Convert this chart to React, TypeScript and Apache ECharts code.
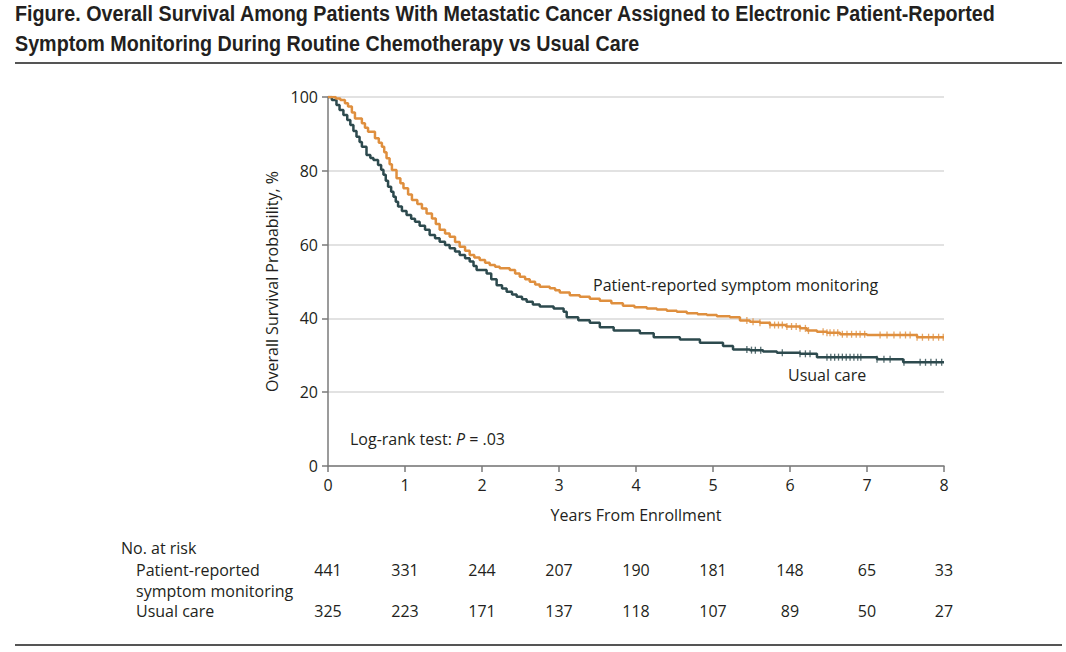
import React, { useEffect, useRef } from "react";
import * as echarts from "echarts";

const proTimes = [0, 0.1, 0.16, 0.22, 0.26, 0.31, 0.35, 0.44, 0.48, 0.52, 0.61, 0.66, 0.7, 0.73, 0.76, 0.8, 0.83, 0.89, 0.94, 0.98, 1.04, 1.09, 1.16, 1.22, 1.28, 1.35, 1.4, 1.45, 1.52, 1.58, 1.65, 1.71, 1.78, 1.84, 1.9, 1.97, 2.04, 2.1, 2.17, 2.23, 2.36, 2.43, 2.49, 2.56, 2.62, 2.69, 2.75, 2.88, 2.95, 3.01, 3.14, 3.27, 3.4, 3.53, 3.68, 3.83, 3.98, 4.14, 4.27, 4.4, 4.53, 4.66, 4.8, 4.92, 5.05, 5.22, 5.35, 5.48, 5.61, 5.74, 5.95, 6.13, 6.22, 6.35, 6.48, 6.65, 7.0, 7.65, 8.0];
const proSurv = [100, 99.6, 99.2, 98.3, 97.4, 95.8, 94.2, 92.9, 91.7, 90.6, 88.8, 87.6, 86.5, 85, 83.4, 81.8, 80.2, 78, 76.6, 75.3, 73.6, 72.1, 71, 69.8, 68.4, 67.1, 65.6, 64, 63, 62.1, 60.7, 59.4, 58.3, 57.2, 56.5, 55.8, 55.1, 54.5, 54, 53.6, 53.1, 52.2, 51.3, 50.6, 49.9, 49.2, 48.6, 48.2, 47.6, 47, 46.3, 45.9, 45.3, 44.8, 44.1, 43.4, 43, 42.7, 42.4, 42.1, 41.8, 41.4, 41.1, 40.9, 40.6, 40.3, 39.4, 39.1, 38.8, 38.2, 37.8, 37.3, 36.7, 36.4, 36.1, 35.7, 35.5, 34.9, 34.9];

const ucTimes = [0, 0.05, 0.11, 0.15, 0.2, 0.25, 0.29, 0.33, 0.37, 0.41, 0.44, 0.5, 0.55, 0.59, 0.65, 0.69, 0.72, 0.75, 0.78, 0.82, 0.85, 0.88, 0.91, 0.96, 1.02, 1.08, 1.13, 1.19, 1.26, 1.32, 1.39, 1.45, 1.52, 1.58, 1.65, 1.71, 1.78, 1.84, 1.89, 1.93, 2.06, 2.12, 2.19, 2.26, 2.32, 2.39, 2.45, 2.52, 2.58, 2.66, 2.75, 2.93, 3.06, 3.1, 3.25, 3.4, 3.53, 3.71, 4.05, 4.23, 4.57, 4.83, 5.13, 5.26, 5.48, 5.65, 5.83, 6.13, 6.35, 7.13, 7.47, 8.0];
const ucSurv = [100, 99.2, 97.8, 96.5, 95.1, 93.8, 92.4, 90.8, 89.2, 87.8, 86.5, 84.3, 83.5, 82.9, 81.6, 80.3, 78.9, 77.3, 75.7, 74.3, 73, 71.6, 70.3, 69.1, 68, 67, 66.2, 65.1, 64, 62.6, 61.7, 60.8, 59.9, 59, 58.1, 57.2, 56.3, 55.4, 54.2, 53.1, 52.2, 50.6, 49, 48.1, 47.2, 46.5, 45.9, 45.2, 44.5, 43.8, 43.2, 42.7, 41.8, 40.3, 39.5, 38.8, 37.6, 36.7, 36, 34.9, 34.3, 33.4, 32.5, 31.6, 31.4, 31, 30.7, 30.4, 29.5, 28.9, 28.1, 28.1];

const proCensor = [5.44, 5.52, 5.61, 5.74, 5.8, 5.85, 5.9, 5.96, 6.02, 6.08, 6.13, 6.2, 6.24, 6.43, 6.48, 6.52, 6.57, 6.62, 6.68, 6.74, 6.8, 6.86, 6.91, 6.97, 7.17, 7.26, 7.35, 7.43, 7.5, 7.56, 7.65, 7.72, 7.8, 7.86, 7.93, 7.99];
const ucCensor = [5.44, 5.5, 5.55, 5.62, 5.9, 6.13, 6.2, 6.26, 6.48, 6.53, 6.58, 6.63, 6.68, 6.73, 6.78, 6.83, 6.88, 6.92, 7.13, 7.22, 7.3, 7.48, 7.69, 7.76, 7.83, 7.9, 7.97];

const xTicks = [0, 1, 2, 3, 4, 5, 6, 7, 8];
const proAtRisk = [441, 331, 244, 207, 190, 181, 148, 65, 33];
const ucAtRisk = [325, 223, 171, 137, 118, 107, 89, 50, 27];

const TITLE1 = "Figure. Overall Survival Among Patients With Metastatic Cancer Assigned to Electronic Patient-Reported";
const TITLE2 = "Symptom Monitoring During Routine Chemotherapy vs Usual Care";

const ORANGE = "#DF8F3E";
const DARK = "#2D4A4E";
const FONT = "'Open Sans', 'Noto Sans', sans-serif";
const TITLE_FONT = "'Liberation Sans', Arial, sans-serif";
const TEXT = "#231f20";

function survAt(times: number[], surv: number[], t: number) {
  let v = surv[0];
  for (let i = 0; i < times.length; i++) {
    if (times[i] <= t) v = surv[i];
  }
  return v;
}

function measure(text: string, font: string) {
  const c = document.createElement("canvas").getContext("2d");
  if (!c) return text.length * 10;
  c.font = font;
  return c.measureText(text).width;
}

export default function App() {
  const ref = useRef<HTMLDivElement>(null);
  useEffect(() => {
    if (!ref.current) return;
    const chart = echarts.init(ref.current, null, { renderer: "svg" });
    const grid = { left: 328, top: 97, width: 616, height: 369 };
    chart.setOption({
      animation: false,
      grid,
      xAxis: {
        type: "value",
        min: 0,
        max: 8,
        interval: 1,
        name: "Years From Enrollment",
        nameLocation: "middle",
        nameGap: 41,
        nameTextStyle: { fontFamily: FONT, fontSize: 16, color: TEXT },
        axisLine: { lineStyle: { color: "#7a7a7a", width: 1.5 } },
        axisTick: { length: 6, lineStyle: { color: "#7a7a7a", width: 1.5 } },
        axisLabel: { margin: 11, fontFamily: FONT, fontSize: 16, color: TEXT },
        splitLine: { show: false },
      },
      yAxis: {
        type: "value",
        min: 0,
        max: 100,
        interval: 20,
        name: "Overall Survival Probability, %",
        nameLocation: "middle",
        nameGap: 42,
        nameTextStyle: { fontFamily: FONT, fontSize: 16, color: TEXT },
        axisLine: { show: true, lineStyle: { color: "#7a7a7a", width: 1.5 } },
        axisTick: { show: true, length: 6, lineStyle: { color: "#7a7a7a", width: 1.5 } },
        axisLabel: { margin: 10, fontFamily: FONT, fontSize: 16, color: TEXT },
        splitLine: { show: true, lineStyle: { color: "#d9d9d9", width: 1.5 } },
      },
      series: [
        {
          type: "line",
          step: "end",
          data: ucTimes.map((t, i) => [t, ucSurv[i]]),
          showSymbol: false,
          lineStyle: { color: DARK, width: 2.5 },
          z: 3,
        },
        {
          type: "line",
          step: "end",
          data: proTimes.map((t, i) => [t, proSurv[i]]),
          showSymbol: false,
          lineStyle: { color: ORANGE, width: 2.5 },
          z: 4,
        },
        {
          type: "scatter",
          data: ucCensor.map((t) => [t, survAt(ucTimes, ucSurv, t)]),
          symbol: "rect",
          symbolSize: [1.3, 7],
          itemStyle: { color: DARK },
          z: 5,
        },
        {
          type: "scatter",
          data: proCensor.map((t) => [t, survAt(proTimes, proSurv, t)]),
          symbol: "rect",
          symbolSize: [1.3, 7],
          itemStyle: { color: ORANGE },
          z: 5,
        },
      ],
    });

    const riskTexts: any[] = [];
    xTicks.forEach((t, i) => {
      const x = chart.convertToPixel({ xAxisIndex: 0 }, t) as number;
      riskTexts.push({
        type: "text",
        x,
        y: 570,
        style: { text: String(proAtRisk[i]), fontFamily: FONT, fontSize: 16, lineHeight: 17, fill: TEXT, align: "center", verticalAlign: "middle" },
      });
      riskTexts.push({
        type: "text",
        x,
        y: 611,
        style: { text: String(ucAtRisk[i]), fontFamily: FONT, fontSize: 16, lineHeight: 17, fill: TEXT, align: "center", verticalAlign: "middle" },
      });
    });

    const lbl = (text: string, x: number, y: number) => ({
      type: "text",
      x,
      y,
      style: { text, fontFamily: FONT, fontSize: 16, lineHeight: 17, fill: TEXT, align: "left", verticalAlign: "middle" },
    });

    const titleFont = `bold 22px ${TITLE_FONT}`;
    const w1 = measure(TITLE1, titleFont);
    const sx = 982 / w1;

    chart.setOption({
      graphic: [
        {
          type: "text",
          x: 15,
          y: 13,
          scaleX: sx,
          style: { text: TITLE1, fontFamily: TITLE_FONT, fontWeight: "bold", fontSize: 22, fill: TEXT, verticalAlign: "middle" },
        },
        {
          type: "text",
          x: 15,
          y: 43,
          scaleX: sx,
          style: { text: TITLE2, fontFamily: TITLE_FONT, fontWeight: "bold", fontSize: 22, fill: TEXT, verticalAlign: "middle" },
        },
        { type: "line", shape: { x1: 15, y1: 63, x2: 1062, y2: 63 }, style: { stroke: "#555", lineWidth: 2 } },
        { type: "line", shape: { x1: 15, y1: 645, x2: 1062, y2: 645 }, style: { stroke: "#555", lineWidth: 2 } },
        lbl("Patient-reported symptom monitoring", 593, 285),
        lbl("Usual care", 788, 375),
        {
          type: "text",
          x: 350,
          y: 439,
          style: {
            text: "{a|Log-rank test: }{i|P}{a| = .03}",
            verticalAlign: "middle",
            rich: {
              a: { fontFamily: FONT, fontSize: 16, fill: TEXT },
              i: { fontFamily: FONT, fontSize: 16, fill: TEXT, fontStyle: "italic" },
            },
          },
        },
        lbl("No. at risk", 121, 548),
        lbl("Patient-reported", 136, 570),
        lbl("symptom monitoring", 136, 591),
        lbl("Usual care", 136, 611),
        ...riskTexts,
      ],
    });
    return () => chart.dispose();
  }, []);
  return <div ref={ref} style={{ position: "absolute", left: 0, top: 0, width: 1066, height: 652, background: "#fff" }} />;
}
